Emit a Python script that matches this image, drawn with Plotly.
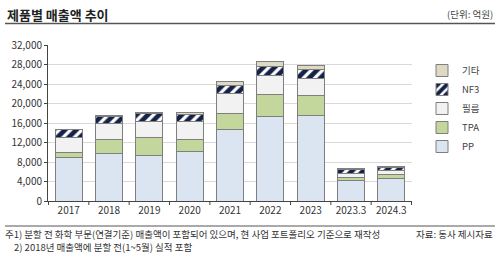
import plotly.graph_objects as go

categories = ["2017", "2018", "2019", "2020", "2021", "2022", "2023", "2023.3", "2024.3"]
pp    = [8900, 9800, 9400, 10100, 14750, 17250, 17500, 4250, 4550]
tpa   = [1000, 2850, 3600, 2450, 3300, 4600, 4050, 550, 850]
film  = [3200, 3250, 3350, 3700, 4050, 3850, 3650, 900, 850]
nf3   = [1500, 1400, 1500, 1550, 1550, 1850, 1850, 700, 650]
etc   = [150, 280, 280, 400, 800, 1150, 750, 200, 200]

series_names = ["PP", "TPA", "필름", "NF3", "기타"]
series_vals = [pp, tpa, film, nf3, etc]
series_colors = ["#dbe5f1", "#c3d69b", "#f2f2f2", "#ffffff", "#ddd9c3"]

W, H = 500, 260
ML, MR, MT, MB = 48, 88, 45, 59
PW, PH = W - ML - MR, H - MT - MB

def px(x):
    return (x - ML) / PW

def py(y):
    return (H - MB - y) / PH

FONT = "Noto Sans CJK KR"

fig = go.Figure()
for name, vals, col in zip(series_names, series_vals, series_colors):
    kw = dict(color=col, line=dict(color="#7f7f7f", width=1))
    if name == "NF3":
        kw["pattern"] = dict(shape="/", fgcolor="#14224a", bgcolor="#ffffff",
                             fgopacity=1, size=8, solidity=0.6)
    fig.add_trace(go.Bar(x=categories, y=vals, name=name, marker=kw, width=0.67))

fig.update_layout(
    width=W, height=H,
    margin=dict(l=ML, r=MR, t=MT, b=MB),
    barmode="stack",
    plot_bgcolor="white", paper_bgcolor="white",
    font=dict(family=FONT, size=10, color="#333333"),
    showlegend=True,
    legend=dict(
        x=px(422), y=py(56), xanchor="left", yanchor="top",
        traceorder="reversed", font=dict(size=9.5, color="#444444"),
        itemwidth=30, tracegroupgap=0, bgcolor="rgba(0,0,0,0)",
    ),
    xaxis=dict(
        type="category", showline=True, linecolor="#444444", linewidth=1,
        ticks="", tickfont=dict(size=10, color="#333333"),
    ),
    yaxis=dict(
        range=[0, 32000], dtick=4000, tickformat=",", showline=True,
        linecolor="#444444", linewidth=1, ticks="outside", ticklen=3,
        tickcolor="#444444", gridcolor="#d9d9d9", gridwidth=1,
        tickfont=dict(size=10, color="#333333"), zeroline=False,
    ),
)

# category boundary tick marks on x axis
for i in range(len(categories) + 1):
    fig.add_shape(type="line", xref="x", yref="paper",
                  x0=i - 0.5, x1=i - 0.5, y0=0, y1=py(H - MB + 4),
                  line=dict(color="#444444", width=1))

# header
fig.add_annotation(text="<b>제품별 매출액 추이</b>", xref="paper", yref="paper",
                   x=px(5), y=py(14), xanchor="left", yanchor="middle",
                   showarrow=False, font=dict(size=13, color="#222222", family=FONT))
fig.add_annotation(text="(단위: 억원)", xref="paper", yref="paper",
                   x=px(495), y=py(14), xanchor="right", yanchor="middle",
                   showarrow=False, font=dict(size=9.5, color="#444444", family=FONT))
fig.add_shape(type="line", xref="paper", yref="paper",
              x0=px(5), x1=px(495), y0=py(23.5), y1=py(23.5),
              line=dict(color="#555555", width=1.5))

# footer
fig.add_shape(type="line", xref="paper", yref="paper",
              x0=px(5), x1=px(495), y0=py(226), y1=py(226),
              line=dict(color="#555555", width=1))
fig.add_annotation(text="주1) 분할 전 화학 부문(연결기준) 매출액이 포함되어 있으며, 현 사업 포트폴리오 기준으로 재작성",
                   xref="paper", yref="paper", x=px(3), y=py(234),
                   xanchor="left", yanchor="middle", showarrow=False,
                   font=dict(size=9.5, color="#333333", family=FONT))
fig.add_annotation(text="2) 2018년 매출액에 분할 전(1~5월) 실적 포함",
                   xref="paper", yref="paper", x=px(12), y=py(247),
                   xanchor="left", yanchor="middle", showarrow=False,
                   font=dict(size=9.5, color="#333333", family=FONT))
fig.add_annotation(text="자료: 동사 제시자료",
                   xref="paper", yref="paper", x=px(495), y=py(234),
                   xanchor="right", yanchor="middle", showarrow=False,
                   font=dict(size=9.5, color="#333333", family=FONT))

fig.write_html("out.html")
